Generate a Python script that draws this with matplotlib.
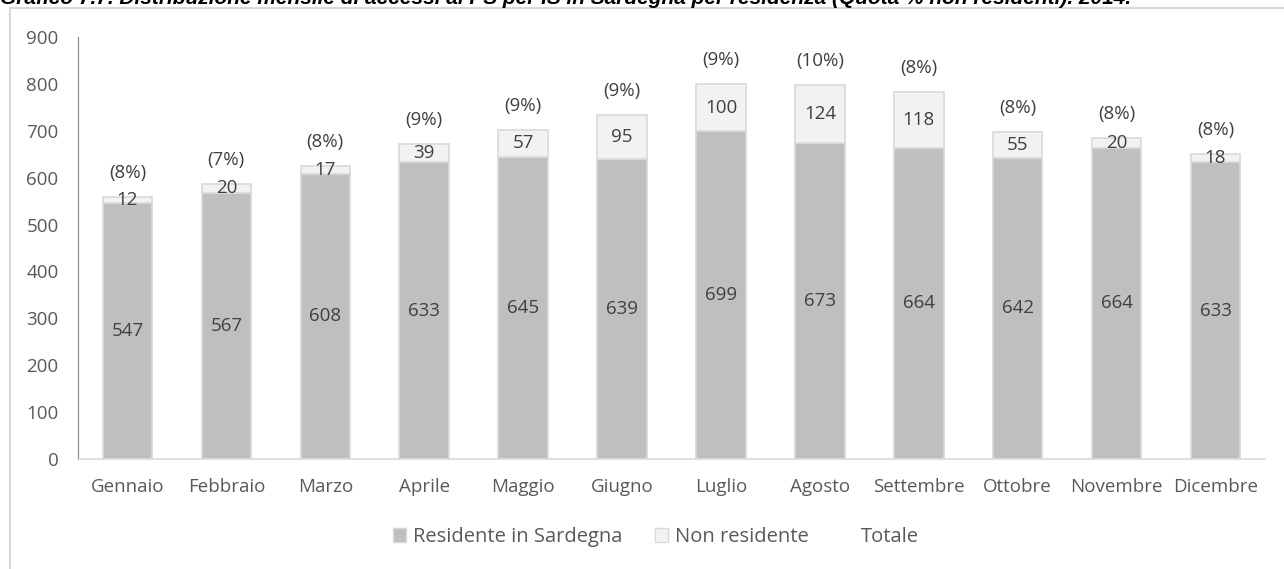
import numpy as np
from matplotlib import pyplot as plt
from matplotlib.patches import Patch, Rectangle
from matplotlib.lines import Line2D

mesi = ['Gennaio', 'Febbraio', 'Marzo', 'Aprile', 'Maggio', 'Giugno', 'Luglio',
        'Agosto', 'Settembre', 'Ottobre', 'Novembre', 'Dicembre']
residenti = [547, 567, 608, 633, 645, 639, 699, 673, 664, 642, 664, 633]
non_residenti = [12, 20, 17, 39, 57, 95, 100, 124, 118, 55, 20, 18]
quota_pct = [8, 7, 8, 9, 9, 9, 9, 10, 8, 8, 8, 8]
y_ticks = [0, 100, 200, 300, 400, 500, 600, 700, 800, 900]

titolo = ('Grafico 7.7. Distribuzione mensile di accessi al PS per IS in Sardegna '
          'per residenza (Quota % non residenti). 2014.')

TXT = '#595959'
plt.rcParams['font.family'] = ['Open Sans', 'DejaVu Sans']

W, H = 1284, 569
fig = plt.figure(figsize=(W / 100, H / 100), dpi=100)

# chart area border (cropped on right and bottom)
fig.patches.append(Rectangle((10 / W, -0.1), 1.2, 1.1 - 8 / H, transform=fig.transFigure,
                             fill=False, edgecolor='#d9d9d9', linewidth=1.5))
# title, mostly cropped at the top as in the original
fig.text(0.0, 1 - 4 / H, titolo, fontsize=15, fontweight='bold', style='italic',
         family='Liberation Sans', color='black', va='baseline', ha='left')

ax = fig.add_axes([78 / W, (H - 459) / H, (1265 - 78) / W, (459 - 37) / H])
x = np.arange(len(mesi))
res = np.array(residenti)
nres = np.array(non_residenti)

ax.bar(x, res, width=0.5, color='#bfbfbf', edgecolor='#d9d9d9', linewidth=1.2)
ax.bar(x, nres, bottom=res, width=0.5, color='#f2f2f2', edgecolor='#d9d9d9', linewidth=1.2)

for i in x:
    ax.text(i, res[i] / 2, str(res[i]), ha='center', va='center', fontsize=13.5, color='#404040')
    ax.text(i, res[i] + nres[i] / 2, str(nres[i]), ha='center', va='center', fontsize=13.5,
            color='#404040')
    ax.annotate('(%d%%)' % quota_pct[i], (i, res[i] + nres[i]), xytext=(0, 24),
                textcoords='offset pixels', ha='center', va='center', fontsize=13.5,
                color='#404040')

ax.set_xlim(-0.5, len(mesi) - 0.5)
ax.set_ylim(0, 900)
ax.set_yticks(y_ticks)
ax.set_xticks(x)
ax.set_xticklabels(mesi)
ax.tick_params(axis='both', length=0, labelsize=13.5, colors=TXT)
ax.tick_params(axis='y', pad=14)
ax.tick_params(axis='x', pad=14)
for s in ['top', 'right']:
    ax.spines[s].set_visible(False)
ax.spines['left'].set_color('#868686')
ax.spines['bottom'].set_color('#d9d9d9')
ax.spines['bottom'].set_linewidth(1.2)

handles = [Patch(facecolor='#bfbfbf', edgecolor='#d9d9d9'),
           Patch(facecolor='#f2f2f2', edgecolor='#d9d9d9'),
           Line2D([], [], color='none')]
fig.legend(handles, ['Residente in Sardegna', 'Non residente', 'Totale'], loc='center',
           bbox_to_anchor=(656 / W, (H - 537) / H), ncol=3, frameon=False, fontsize=14.5,
           labelcolor=TXT, handlelength=0.65, handleheight=0.65, handletextpad=0.35,
           columnspacing=1.6)

fig.savefig('out.png', dpi=100)
